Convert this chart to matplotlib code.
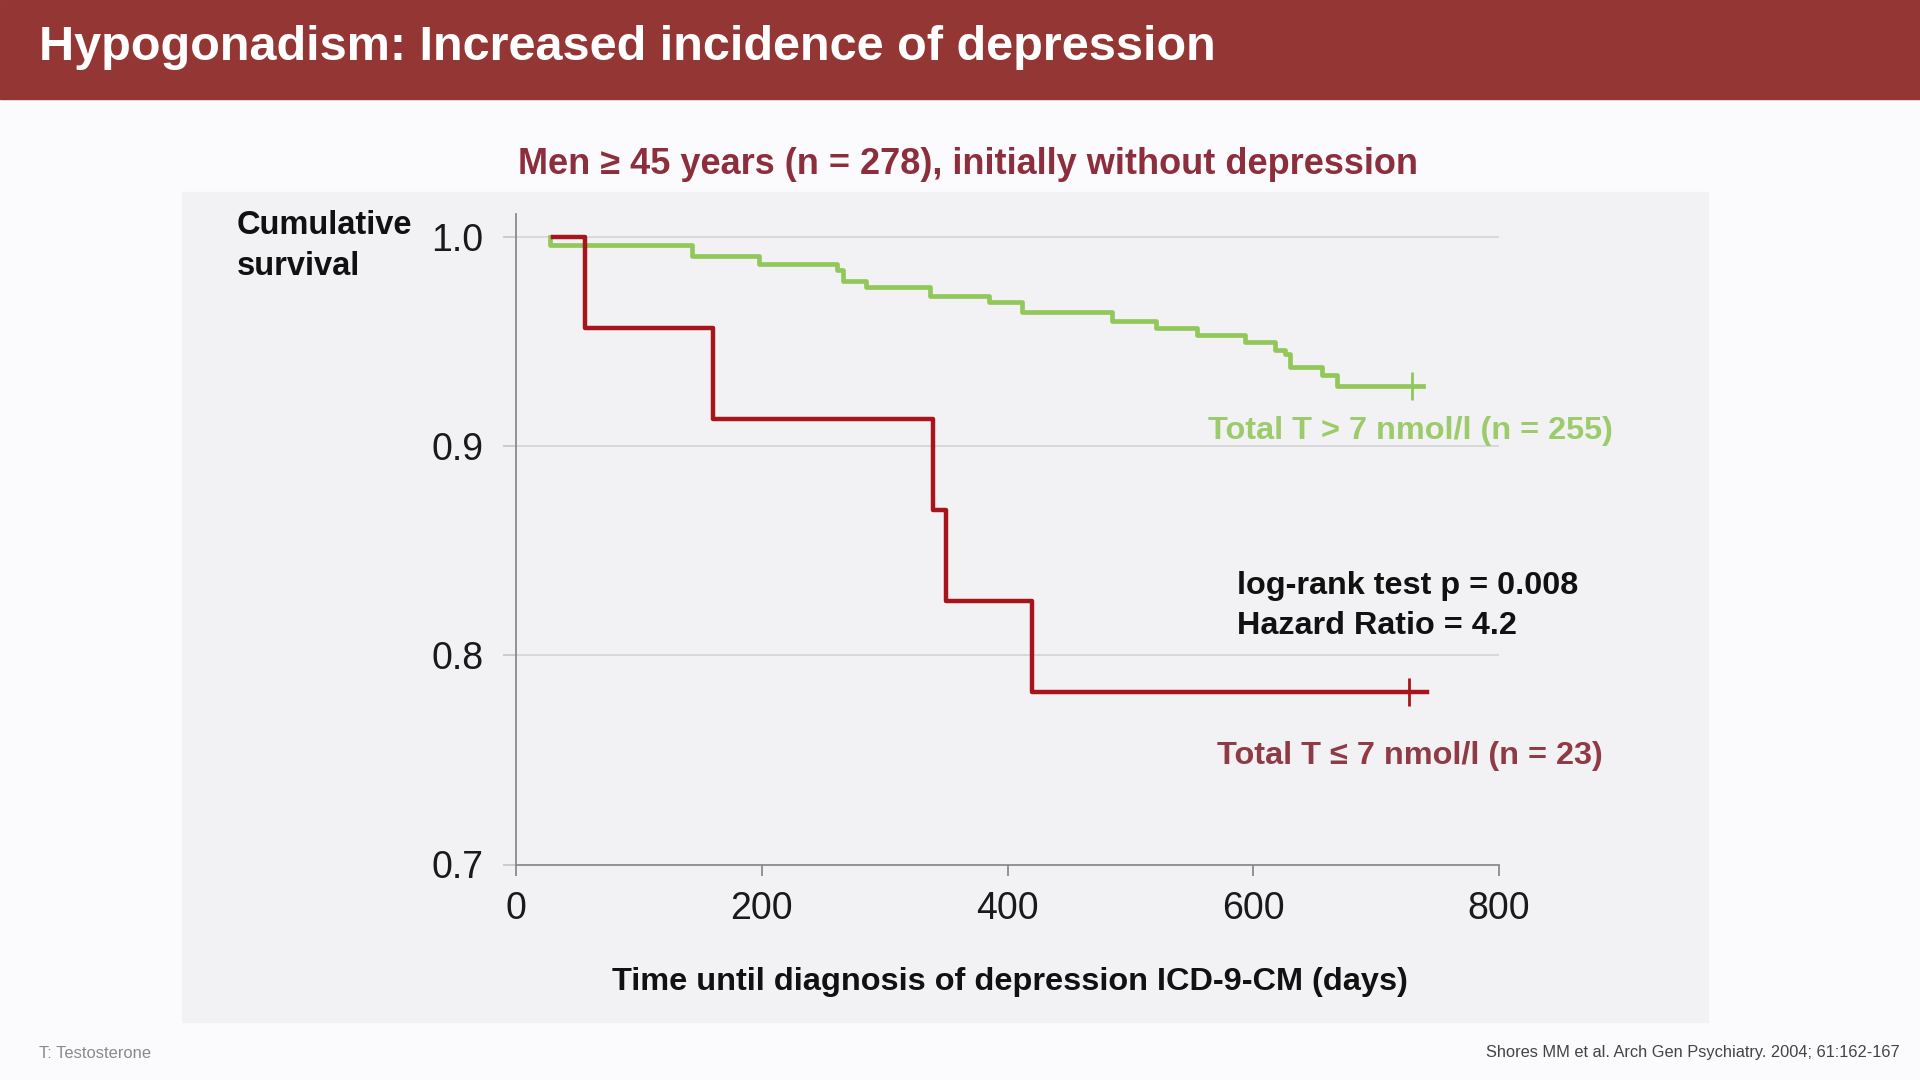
import matplotlib
matplotlib.use("Agg")
import matplotlib.pyplot as plt
from matplotlib.patches import Rectangle

plt.rcParams['font.family'] = ['Liberation Sans', 'DejaVu Sans']

# Kaplan-Meier steps (days, cumulative survival)
low_t_days = [30, 56, 160, 339, 350, 420, 741]
low_t_surv = [1.0, 0.9565, 0.913, 0.8696, 0.826, 0.7826, 0.7826]
low_t_censor = 727

high_t_days = [28, 28, 143, 198, 261, 266, 285, 337, 385, 412, 485, 521,
               554, 593, 618, 626, 630, 656, 668, 738]
high_t_surv = [1.0, 0.996, 0.991, 0.987, 0.984, 0.979, 0.976, 0.972, 0.969,
               0.964, 0.960, 0.9565, 0.953, 0.950, 0.946, 0.944, 0.938,
               0.934, 0.929, 0.929]
high_t_censor = 729

x_ticks = [0, 200, 400, 600, 800]
y_ticks = [0.7, 0.8, 0.9, 1.0]

W, H = 1920, 1080
maroon = '#943634'
red = '#a8141b'
green = '#92c85a'

fig = plt.figure(figsize=(W / 100, H / 100), dpi=100)
fig.patch.set_facecolor('#fbfbfd')

def fx(px):
    return px / W

def fy(py):
    return 1 - py / H

# header bar and grey panel, kept behind the axes
fig.patches.append(Rectangle((0, fy(99)), 1, 99 / H, transform=fig.transFigure,
                             color=maroon, zorder=-10))
fig.patches.append(Rectangle((fx(182), fy(1022)), (1708 - 182) / W, (1022 - 192) / H,
                             transform=fig.transFigure, color='#f2f1f4', zorder=-10))

fig.text(fx(39), fy(48), 'Hypogonadism: Increased incidence of depression',
         color='white', fontsize=35, fontweight='bold', va='center', ha='left')
fig.text(fx(968), fy(164), 'Men \u2265 45 years (n = 278), initially without depression',
         color='#8c2e3b', fontsize=26, fontweight='bold', va='center', ha='center')

ax = fig.add_axes([fx(516), fy(864.5), (1499 - 516) / W, (864.5 - 214) / H])
ax.set_facecolor('none')
ax.set_xlim(0, 800)
ax.set_ylim(0.7, 1.011)

for v in y_ticks[1:]:
    ax.axhline(v, color='#d6d6d8', lw=1.3, zorder=1)

ax.plot(high_t_days, high_t_surv, drawstyle='steps-post', color=green, lw=3.4, zorder=3)
ax.plot(low_t_days, low_t_surv, drawstyle='steps-post', color=red, lw=3.2, zorder=4)
ax.plot([high_t_censor], [high_t_surv[-1]], marker='|', ms=20, mew=2, color=green, zorder=5)
ax.plot([low_t_censor], [low_t_surv[-1]], marker='|', ms=20, mew=2, color=red, zorder=5)

for s in ['top', 'right']:
    ax.spines[s].set_visible(False)
for s in ['left', 'bottom']:
    ax.spines[s].set_color('#8a8a8a')
    ax.spines[s].set_linewidth(1.3)

ax.set_xticks(x_ticks)
ax.set_xticklabels([str(t) for t in x_ticks])
ax.set_yticks(y_ticks)
ax.set_yticklabels(['%.1f' % t for t in y_ticks])
ax.tick_params(axis='x', length=8, width=1.3, color='#8a8a8a', labelsize=27,
               labelcolor='#1a1a1a', pad=11)
ax.tick_params(axis='y', length=9.5, width=1.3, color='#c8c8ca', labelsize=27,
               labelcolor='#1a1a1a', pad=14)

fig.text(fx(1010), fy(982), 'Time until diagnosis of depression ICD-9-CM (days)',
         fontsize=23.4, fontweight='bold', color='#111111', ha='center', va='center')
fig.text(fx(237), fy(246), 'Cumulative\nsurvival', fontsize=23.5, fontweight='bold',
         color='#111111', ha='left', va='center', linespacing=1.4)

fig.text(fx(1208), fy(431), 'Total T > 7 nmol/l (n = 255)', fontsize=23.4,
         fontweight='bold', color='#9bcb6b', ha='left', va='center')
fig.text(fx(1217), fy(756), 'Total T \u2264 7 nmol/l (n = 23)', fontsize=23.4,
         fontweight='bold', color='#8e3b46', ha='left', va='center')
fig.text(fx(1237), fy(606), 'log-rank test p = 0.008\nHazard Ratio = 4.2', fontsize=23.3,
         fontweight='bold', color='#111111', ha='left', va='center', linespacing=1.45)

fig.text(fx(39), fy(1053), 'T: Testosterone', fontsize=11.9, color='#8a8a8a',
         ha='left', va='center')
fig.text(fx(1900), fy(1053), 'Shores MM et al. Arch Gen Psychiatry. 2004; 61:162-167',
         fontsize=11.8, color='#444444', ha='right', va='center')

fig.savefig('out.png', dpi=100, facecolor=fig.get_facecolor())
